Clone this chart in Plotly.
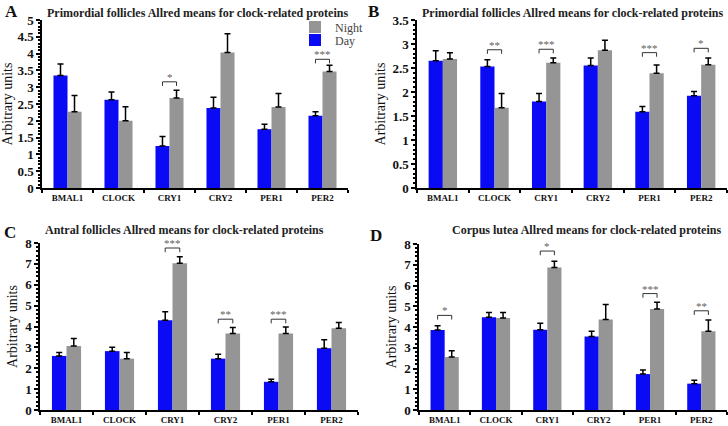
import plotly.graph_objects as go
from plotly.subplots import make_subplots

genes = ["BMAL1", "CLOCK", "CRY1", "CRY2", "PER1", "PER2"]

# panel A - primordial follicles
a_day = [3.35, 2.63, 1.25, 2.38, 1.75, 2.15]
a_day_err = [0.34, 0.23, 0.28, 0.32, 0.15, 0.12]
a_night = [2.27, 2.00, 2.68, 4.03, 2.41, 3.47]
a_night_err = [0.48, 0.42, 0.23, 0.56, 0.40, 0.18]
a_sig = [None, None, "*", None, None, "***"]
a_sig_y = [None, None, 3.16, None, None, 3.83]

# panel B - primordial follicles
b_day = [2.65, 2.53, 1.80, 2.55, 1.59, 1.92]
b_day_err = [0.21, 0.14, 0.17, 0.16, 0.11, 0.09]
b_night = [2.69, 1.67, 2.61, 2.87, 2.39, 2.57]
b_night_err = [0.13, 0.30, 0.10, 0.21, 0.17, 0.14]
b_sig = [None, "**", "***", None, "***", "*"]
b_sig_y = [None, 2.88, 2.89, None, 2.82, 2.91]

# panel C - antral follicles
c_day = [2.59, 2.82, 4.30, 2.46, 1.35, 2.96]
c_day_err = [0.16, 0.19, 0.41, 0.21, 0.12, 0.40]
c_night = [3.07, 2.46, 7.03, 3.67, 3.67, 3.92]
c_night_err = [0.35, 0.29, 0.31, 0.28, 0.31, 0.27]
c_sig = [None, None, "***", "**", "***", None]
c_sig_y = [None, None, 7.76, 4.35, 4.35, None]

# panel D - corpus lutea
d_day = [3.85, 4.47, 3.87, 3.54, 1.73, 1.27]
d_day_err = [0.21, 0.23, 0.31, 0.25, 0.20, 0.16]
d_night = [2.55, 4.43, 6.87, 4.36, 4.87, 3.79]
d_night_err = [0.30, 0.27, 0.30, 0.72, 0.32, 0.55]
d_sig = ["*", None, "*", None, "***", "**"]
d_sig_y = [4.56, None, 7.66, None, 5.61, 4.78]

titles = [
    "Primordial follicles Allred means for clock-related proteins",
    "Primordial follicles Allred means for clock-related proteins",
    "Antral follicles Allred means for clock-related proteins",
    "Corpus lutea Allred means for clock-related proteins",
]

DAY = "#0a0af5"
NIGHT = "#959595"
SERIF = "Liberation Serif, Times New Roman, serif"
W, H = 728, 426
BARGAP = 0.45

fig = make_subplots(rows=2, cols=2)

panels = [
    (a_day, a_day_err, a_night, a_night_err, a_sig, a_sig_y, 5, 0.5, 0.1, 0.12),
    (b_day, b_day_err, b_night, b_night_err, b_sig, b_sig_y, 3.5, 0.5, 0.1, 0.085),
    (c_day, c_day_err, c_night, c_night_err, c_sig, c_sig_y, 8, 1, 0.2, 0.2),
    (d_day, d_day_err, d_night, d_night_err, d_sig, d_sig_y, 8, 1, 0.2, 0.2),
]

# pixel boxes of each plot area: (left, right, top, bottom)
boxes = [(42, 348, 20, 188), (417, 727, 20, 188), (40, 358, 243, 410), (419, 727, 244, 410)]

off = (1 - BARGAP) / 4
for i, (day, derr, night, nerr, sig, sig_y, ymax, dt, mdt, leg) in enumerate(panels):
    r, c = i // 2 + 1, i % 2 + 1
    first = i == 0
    fig.add_trace(go.Bar(
        x=genes, y=day, name="Day", marker=dict(color=DAY, line=dict(width=0)),
        error_y=dict(type="data", array=derr, arrayminus=[0] * 6, symmetric=False,
                     color="black", thickness=1.5, width=3),
        showlegend=first, legend="legend2",
    ), row=r, col=c)
    fig.add_trace(go.Bar(
        x=genes, y=night, name="Night", marker=dict(color=NIGHT, line=dict(width=0)),
        error_y=dict(type="data", array=nerr, arrayminus=[0] * 6, symmetric=False,
                     color="black", thickness=1.5, width=3),
        showlegend=first, legend="legend",
    ), row=r, col=c)

    ax = "" if i == 0 else str(i + 1)
    for k, (s, sy) in enumerate(zip(sig, sig_y)):
        if s is None:
            continue
        x0, x1 = k - off, k + off
        fig.add_shape(type="path", xref="x" + ax, yref="y" + ax,
                      path=f"M {x0} {sy - leg} L {x0} {sy} L {x1} {sy} L {x1} {sy - leg}",
                      line=dict(color="#333333", width=1))
        fig.add_annotation(x=k, y=sy, xref="x" + ax, yref="y" + ax, text=s,
                           showarrow=False, yanchor="bottom", yshift=-3,
                           font=dict(family=SERIF, size=11, color="#606060"))

    left, right, top, bottom = boxes[i]
    fig.update_xaxes(domain=[left / W, right / W], row=r, col=c, automargin=False,
                     showline=True, linecolor="black", linewidth=1.5,
                     ticks="outside", tickson="boundaries", ticklen=3, tickwidth=1.5,
                     tickcolor="black", showgrid=False,
                     tickfont=dict(family=SERIF, size=9, color="#111111", weight="bold"))
    fig.update_yaxes(domain=[1 - bottom / H, 1 - top / H], range=[0, ymax], dtick=dt,
                     row=r, col=c, automargin=False, showline=True, linecolor="black",
                     linewidth=1.5, ticks="outside", ticklen=4, tickwidth=1.5, tickcolor="black",
                     minor=dict(ticks="outside", dtick=mdt, ticklen=2, tickcolor="black"),
                     showgrid=False, zeroline=False,
                     tickfont=dict(family=SERIF, size=13, color="#111111", weight="bold"),
                     title=dict(text="Arbitrary units", standoff=4,
                                font=dict(family=SERIF, size=14, color="#111111")))

# panel titles and letters
title_pos = [(197, 13), (572, 13), (184, 230), (586, 230)]
letter_pos = [(11, 11), (374, 11), (10, 232), (376, 235)]
for i, t in enumerate(titles):
    tx, ty = title_pos[i]
    fig.add_annotation(x=tx / W, y=1 - ty / H, xref="paper", yref="paper", text=f"<b>{t}</b>",
                       showarrow=False, xanchor="center", yanchor="middle",
                       font=dict(family=SERIF, size=12, color="#222222"))
    lx, ly = letter_pos[i]
    fig.add_annotation(x=lx / W, y=1 - ly / H, xref="paper", yref="paper", text=f"<b>{'ABCD'[i]}</b>",
                       showarrow=False, xanchor="center", yanchor="middle",
                       font=dict(family=SERIF, size=17, color="#111111"))

legend_style = dict(xanchor="left", yanchor="middle", bgcolor="rgba(0,0,0,0)", itemwidth=30,
                    font=dict(family=SERIF, size=12, color="#444444"))
fig.update_layout(
    width=W, height=H, margin=dict(l=0, r=0, t=0, b=0),
    plot_bgcolor="white", paper_bgcolor="white",
    barmode="group", bargap=BARGAP, bargroupgap=0,
    legend=dict(x=295 / W, y=1 - 27 / H, **legend_style),
    legend2=dict(x=295 / W, y=1 - 40 / H, **legend_style),
    font=dict(family=SERIF),
)

# the page body has a default 8px margin; drop it so the figure sits at the corner
fig.write_html("out.html", config={"displayModeBar": False},
               post_script="document.body.style.margin='0';")
